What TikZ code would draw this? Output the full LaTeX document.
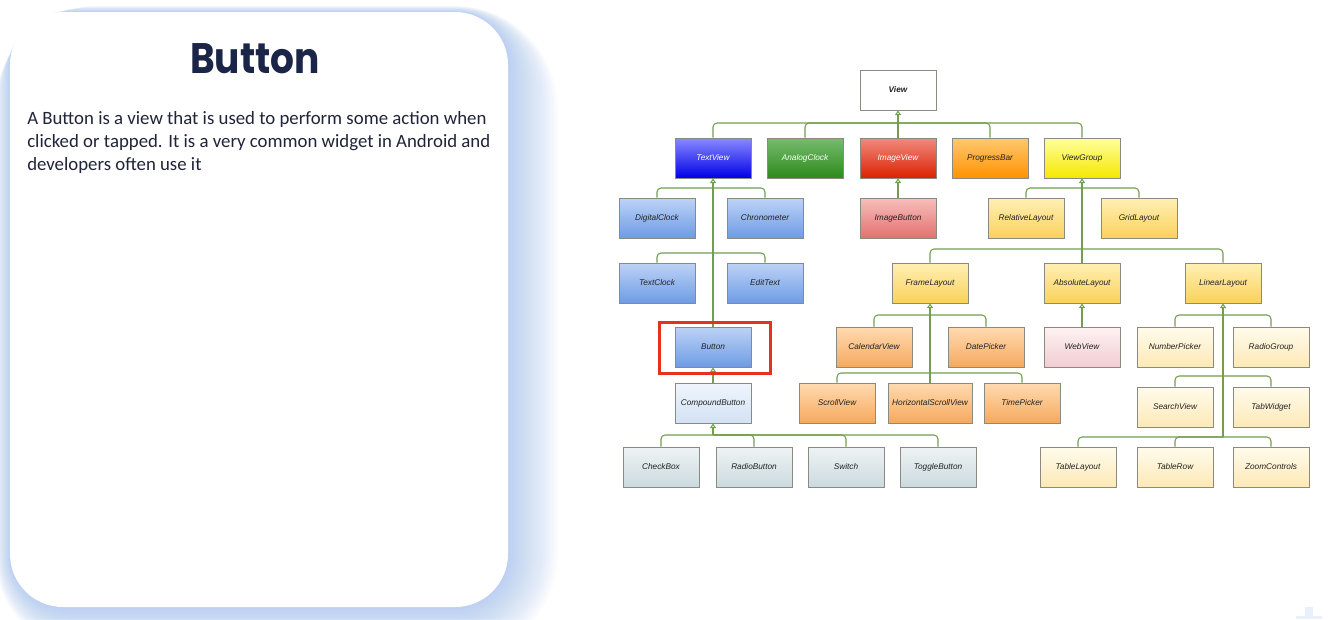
\documentclass[tikz,border=0pt]{standalone}
\usepackage{fontspec}
\usepackage{graphicx}
\usepackage{xcolor}
\usepackage{tikz}
\usetikzlibrary{arrows.meta,shadows,shadings}

\setmainfont{Carlito}
\newfontfamily\titlefont{Poppins}
\newfontfamily\umlfont{Liberation Sans}

\definecolor{titleblue}{HTML}{1B2548}
\definecolor{bodyink}{HTML}{1F2438}
\definecolor{glowblue}{HTML}{8FB6F2}
\definecolor{conngreen}{HTML}{739E4E}
\definecolor{boxline}{HTML}{8A8A80}
\definecolor{hired}{HTML}{E5321F}
\definecolor{boxink}{HTML}{222222}
% gradient pairs (top/bottom)
\definecolor{tvtop}{HTML}{8A8AFF}\definecolor{tvbot}{HTML}{0000E6}
\definecolor{actop}{HTML}{76BC6E}\definecolor{acbot}{HTML}{2E8A1C}
\definecolor{ivtop}{HTML}{F08A80}\definecolor{ivbot}{HTML}{DC2200}
\definecolor{pbtop}{HTML}{FFC870}\definecolor{pbbot}{HTML}{FF9300}
\definecolor{vgtop}{HTML}{FFFF9E}\definecolor{vgbot}{HTML}{F5E800}
\definecolor{lbtop}{HTML}{BDD3F6}\definecolor{lbbot}{HTML}{6E9BE6}
\definecolor{ibtop}{HTML}{F7BFBC}\definecolor{ibbot}{HTML}{E2716E}
\definecolor{yltop}{HTML}{FFF0B4}\definecolor{ylbot}{HTML}{FBD15C}
\definecolor{ortop}{HTML}{FFDAB0}\definecolor{orbot}{HTML}{F6A95E}
\definecolor{pktop}{HTML}{FDF2F2}\definecolor{pkbot}{HTML}{F2CDD2}
\definecolor{crtop}{HTML}{FFFBEC}\definecolor{crbot}{HTML}{FDE9B6}
\definecolor{cbtop}{HTML}{F0F5FC}\definecolor{cbbot}{HTML}{D2E1F4}
\definecolor{gbtop}{HTML}{EEF3F4}\definecolor{gbbot}{HTML}{CBDADF}

\tikzset{
  cls/.style={draw=boxline, line width=0.6pt, minimum width=57pt, minimum height=30pt,
    inner sep=0pt, text height=4.6pt, text depth=1.3pt, text=boxink,
    font=\umlfont\itshape\fontsize{6.2}{7}\selectfont,
    drop shadow={shadow xshift=1pt, shadow yshift=-1pt, opacity=0.3, fill=black!70}},
  pair/.style 2 args={top color=#1, bottom color=#2},
  conn/.style={draw=conngreen, line width=0.8pt},
  branch/.style={conn, rounded corners=3pt},
  trunk/.style={conn, -{Triangle[open, width=4.5pt, length=3.5pt]}},
  hilite/.style={draw=hired, line width=2.25pt},
  glow/.style={fill=glowblue, opacity=0.036},
}

\begin{document}
\begin{tikzpicture}[x=0.75pt, y=-0.75pt]
        \useasboundingbox (0,0) rectangle (1344,619);
        \clip (0,0) rectangle (1344,619);
        \fill[white] (0,0) rectangle (1344,619);

        % card with its glow
        \foreach \i in {1,...,20} {
            \pgfmathsetmacro\e{2.5*\i}
            \pgfmathsetmacro\r{(53+\e)*0.75}
            \fill[glow, rounded corners=\r pt] (10-0.3*\e,12-0.12*\e) rectangle (508+\e,607+\e);
        }
        \fill[white, rounded corners=39.75pt] (10,12) rectangle (508,607);
        \fill[glowblue!20] (1305,607) rectangle (1313,616);
        \fill[glowblue!20] (1296,616) rectangle (1322,619);

        \node[anchor=base, text=titleblue, font=\titlefont\bfseries\fontsize{32}{36}\selectfont] (title) at (255,73) {\scalebox{0.88}[1]{Button}};
        \node[anchor=base west, align=left, inner sep=0pt, text=bodyink, font=\fontsize{14.1}{17.25}\selectfont] (desc) at (27,170)
            {A Button is a view that is used to perform some action when\\clicked or tapped. It is a very common widget in Android and\\developers often use it};

        % class tree
        \node[cls, fill=white, font=\umlfont\bfseries\itshape\fontsize{6.2}{7}\selectfont] (View) at (898,90) {View};

        \node[cls, pair={tvtop}{tvbot}, text=white] (TextView) at (713,158) {TextView};
        \node[cls, pair={actop}{acbot}, text=white] (AnalogClock) at (805,158) {AnalogClock};
        \node[cls, pair={ivtop}{ivbot}, text=white] (ImageView) at (898,158) {ImageView};
        \node[cls, pair={pbtop}{pbbot}] (ProgressBar) at (990,158) {ProgressBar};
        \node[cls, pair={vgtop}{vgbot}] (ViewGroup) at (1082,158) {ViewGroup};

        \node[cls, pair={lbtop}{lbbot}] (DigitalClock) at (657,218) {DigitalClock};
        \node[cls, pair={lbtop}{lbbot}] (Chronometer) at (765,218) {Chronometer};
        \node[cls, pair={ibtop}{ibbot}] (ImageButton) at (898,218) {ImageButton};
        \node[cls, pair={yltop}{ylbot}] (RelativeLayout) at (1026,218) {RelativeLayout};
        \node[cls, pair={yltop}{ylbot}] (GridLayout) at (1139,218) {GridLayout};

        \node[cls, pair={lbtop}{lbbot}] (TextClock) at (657,283) {TextClock};
        \node[cls, pair={lbtop}{lbbot}] (EditText) at (765,283) {EditText};
        \node[cls, pair={yltop}{ylbot}] (FrameLayout) at (930,283) {FrameLayout};
        \node[cls, pair={yltop}{ylbot}] (AbsoluteLayout) at (1082,283) {AbsoluteLayout};
        \node[cls, pair={yltop}{ylbot}] (LinearLayout) at (1223,283) {LinearLayout};

        \node[cls, pair={lbtop}{lbbot}] (Button) at (713,347) {Button};
        \node[cls, pair={ortop}{orbot}] (CalendarView) at (874,347) {CalendarView};
        \node[cls, pair={ortop}{orbot}] (DatePicker) at (986,347) {DatePicker};
        \node[cls, pair={pktop}{pkbot}] (WebView) at (1082,347) {WebView};
        \node[cls, pair={crtop}{crbot}] (NumberPicker) at (1175,347) {NumberPicker};
        \node[cls, pair={crtop}{crbot}] (RadioGroup) at (1271,347) {RadioGroup};

        \node[cls, pair={cbtop}{cbbot}] (CompoundButton) at (713,403) {CompoundButton};
        \node[cls, pair={ortop}{orbot}] (ScrollView) at (837,403) {ScrollView};
        \node[cls, pair={ortop}{orbot}, minimum width=63pt] (HorizontalScrollView) at (930,403) {HorizontalScrollView};
        \node[cls, pair={ortop}{orbot}] (TimePicker) at (1022,403) {TimePicker};
        \node[cls, pair={crtop}{crbot}] (SearchView) at (1175,407) {SearchView};
        \node[cls, pair={crtop}{crbot}] (TabWidget) at (1271,407) {TabWidget};

        \node[cls, pair={gbtop}{gbbot}] (CheckBox) at (661,467) {CheckBox};
        \node[cls, pair={gbtop}{gbbot}] (RadioButton) at (754,467) {RadioButton};
        \node[cls, pair={gbtop}{gbbot}] (Switch) at (846,467) {Switch};
        \node[cls, pair={gbtop}{gbbot}] (ToggleButton) at (938,467) {ToggleButton};
        \node[cls, pair={crtop}{crbot}] (TableLayout) at (1078,467) {TableLayout};
        \node[cls, pair={crtop}{crbot}] (TableRow) at (1175,467) {TableRow};
        \node[cls, pair={crtop}{crbot}] (ZoomControls) at (1271,467) {ZoomControls};

        % bus points on the trunks
        \coordinate (vbus) at (898,123);
        \coordinate (tvbus1) at (713,188);
        \coordinate (tvbus2) at (713,253);
        \coordinate (vgbus1) at (1082,188);
        \coordinate (vgbus2) at (1082,249);
        \coordinate (flbus1) at (930,315);
        \coordinate (flbus2) at (930,373);
        \coordinate (llbus1) at (1223,315);
        \coordinate (llbus2) at (1223,376);
        \coordinate (llbus3) at (1223,437);
        \coordinate (cbbus) at (713,435);

        \foreach \c/\b in {TextView/vbus, AnalogClock/vbus, ProgressBar/vbus, ViewGroup/vbus,
                DigitalClock/tvbus1, Chronometer/tvbus1, TextClock/tvbus2, EditText/tvbus2,
                RelativeLayout/vgbus1, GridLayout/vgbus1, FrameLayout/vgbus2, LinearLayout/vgbus2,
                CalendarView/flbus1, DatePicker/flbus1, ScrollView/flbus2, TimePicker/flbus2,
                NumberPicker/llbus1, RadioGroup/llbus1, SearchView/llbus2, TabWidget/llbus2,
                TableLayout/llbus3, TableRow/llbus3, ZoomControls/llbus3,
                CheckBox/cbbus, RadioButton/cbbus, Switch/cbbus, ToggleButton/cbbus} {
            \draw[branch] (\c.north) |- (\b);
        }

        \draw[trunk] (ImageView.north) -- (View.south);
        \draw[trunk] (Button.north) -- (TextView.south);
        \draw[trunk] (ImageButton.north) -- (ImageView.south);
        \draw[trunk] (AbsoluteLayout.north) -- (ViewGroup.south);
        \draw[trunk] (HorizontalScrollView.north) -- (FrameLayout.south);
        \draw[trunk] (WebView.north) -- (AbsoluteLayout.south);
        \draw[trunk] (llbus3) -- (LinearLayout.south);
        \draw[trunk] (CompoundButton.north) -- (Button.south);
        \draw[trunk] (cbbus) -- (CompoundButton.south);

        \draw[hilite] (659,322) rectangle (770,373);
\end{tikzpicture}
\end{document}
